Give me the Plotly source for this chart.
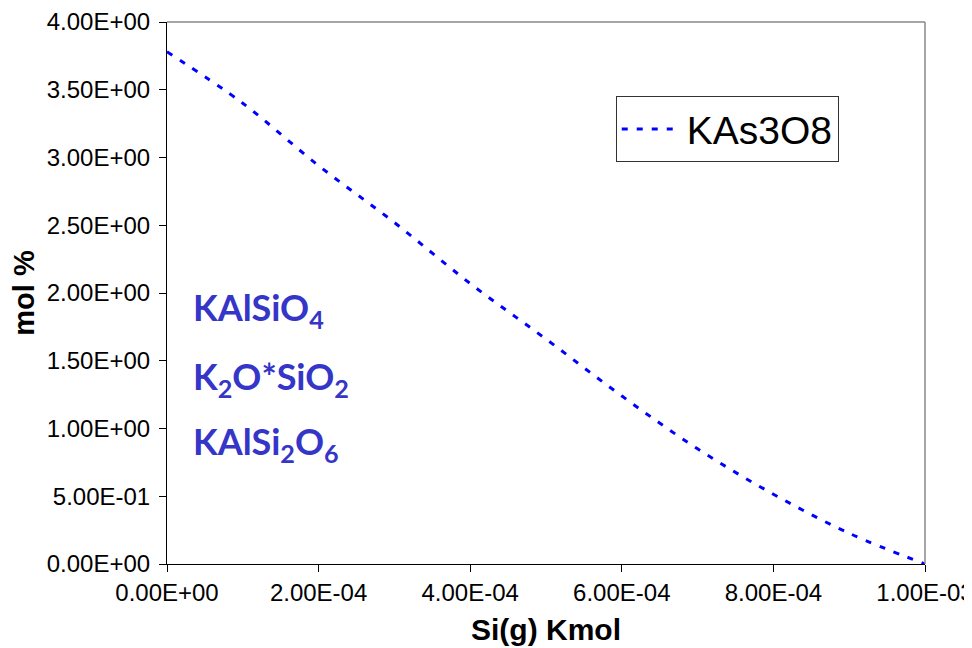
import plotly.graph_objects as go

x_vals = [0.0, 1e-4, 2e-4, 3e-4, 4e-4, 5e-4, 6e-4, 7e-4, 8e-4, 9e-4, 1e-3]
y_kas3o8 = [3.78, 3.40, 2.94, 2.52, 2.07, 1.66, 1.24, 0.85, 0.515, 0.227, 0.0]

x_ticks = [0.0, 2e-4, 4e-4, 6e-4, 8e-4, 1e-3]
x_tick_text = ["0.00E+00", "2.00E-04", "4.00E-04", "6.00E-04", "8.00E-04", "1.00E-03"]
y_ticks = [0, 0.5, 1.0, 1.5, 2.0, 2.5, 3.0, 3.5, 4.0]
y_tick_text = ["0.00E+00", "5.00E-01", "1.00E+00", "1.50E+00", "2.00E+00",
               "2.50E+00", "3.00E+00", "3.50E+00", "4.00E+00"]

species_labels = ["KAlSiO<sub>4</sub>", "K<sub>2</sub>O*SiO<sub>2</sub>", "KAlSi<sub>2</sub>O<sub>6</sub>"]
species_y = [1.88, 1.37, 0.89]

fig = go.Figure()
fig.add_trace(go.Scatter(
    x=x_vals, y=y_kas3o8, mode="lines", name="KAs3O8",
    line=dict(color="#0000FF", width=3, dash="6px,9px", shape="spline"),
))

for lab, yy in zip(species_labels, species_y):
    fig.add_annotation(x=0.0, y=yy, xref="x", yref="y", text="<b>" + lab + "</b>",
                       showarrow=False, xanchor="left", yanchor="middle", xshift=24,
                       font=dict(family="Lato, Liberation Sans, sans-serif", size=36, color="#3535C8"))

fig.update_layout(
    width=972, height=648,
    margin=dict(l=159, r=55, t=14, b=92),
    paper_bgcolor="white", plot_bgcolor="white",
    font=dict(family="Liberation Sans, Arial, sans-serif", size=24, color="black"),
    showlegend=True,
    legend=dict(x=0.592, y=0.863, xanchor="left", yanchor="top",
                bgcolor="white", bordercolor="#333333", borderwidth=1,
                font=dict(size=39), itemwidth=60, tracegroupgap=0),
    xaxis=dict(range=[0, 1e-3], tickvals=x_ticks, ticktext=x_tick_text, automargin=False,
               ticklabeloverflow="allow",
               showgrid=False, zeroline=False, showline=True, linecolor="black", linewidth=1,
               mirror=False, ticks="outside", ticklen=7, tickcolor="black",
               tickfont=dict(size=24),
               title=dict(text="<b>Si(g) Kmol</b>", font=dict(size=30), standoff=14)),
    yaxis=dict(range=[0, 4], tickvals=y_ticks, ticktext=y_tick_text, automargin=False,
               ticklabeloverflow="allow", ticklabelstandoff=4,
               showgrid=False, zeroline=False, showline=True, linecolor="black", linewidth=1,
               ticks="outside", ticklen=7, tickcolor="black",
               tickfont=dict(size=24),
               title=dict(text="<b>mol %</b>", font=dict(size=29), standoff=4)),
)
# plot-area border on top and right (gray)
fig.add_shape(type="line", xref="paper", yref="paper", x0=0, x1=1, y0=1, y1=1,
              line=dict(color="#888888", width=1.5))
fig.add_shape(type="line", xref="paper", yref="paper", x0=1, x1=1, y0=0, y1=1,
              line=dict(color="#888888", width=1.5))

fig.write_html("out.html")
